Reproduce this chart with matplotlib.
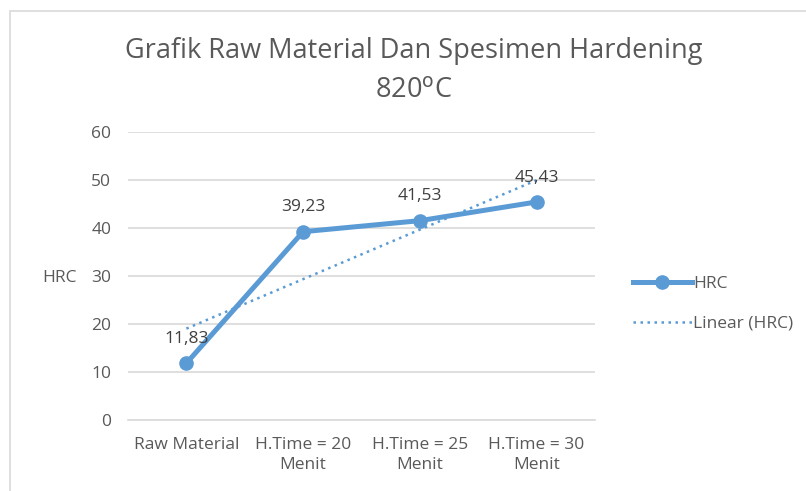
import numpy as np
import matplotlib
matplotlib.use("Agg")
import matplotlib.pyplot as plt
from matplotlib.lines import Line2D
from matplotlib.patches import Rectangle

# Chart data
categories = ["Raw Material", "H.Time = 20\nMenit", "H.Time = 25\nMenit", "H.Time = 30\nMenit"]
hrc = [11.83, 39.23, 41.53, 45.43]
labels = ["11,83", "39,23", "41,53", "45,43"]
yticks = [0, 10, 20, 30, 40, 50, 60]

plt.rcParams['font.family'] = ['Open Sans', 'DejaVu Sans']
text_col = '#595959'
blue = '#5B9BD5'
grid_col = '#D9D9D9'

fig = plt.figure(figsize=(8.06, 4.91), dpi=100)
fig.patches.append(Rectangle((10 / 806, -0.01), 1.0, 1 - 11 / 491 + 0.01, transform=fig.transFigure,
                             fill=False, edgecolor=grid_col, linewidth=1.2))
ax = fig.add_axes([128 / 806, 1 - 420 / 491, (595 - 128) / 806, (420 - 132) / 491])

x = np.arange(1, len(hrc) + 1)
ax.plot(x, hrc, color=blue, linewidth=3.6, marker='o', markersize=9.5, zorder=3)

# linear trendline
m, b = np.polyfit(x, hrc, 1)
ax.plot(x, m * x + b, color=blue, linewidth=1.8, linestyle=(0, (1, 1.8)), zorder=2)

for xi, yi, lab in zip(x, hrc, labels):
    ax.annotate(lab, (xi, yi), xytext=(0, 17.5), textcoords='offset points', ha='center', va='center',
                fontsize=12.5, color='#404040')

ax.set_xlim(0.5, 4.5)
ax.set_ylim(0, 60)
ax.set_yticks(yticks)
ax.set_xticks(x)
ax.set_xticklabels(categories, linespacing=1.35)
ax.grid(axis='y', color=grid_col, linewidth=1.2)
ax.set_axisbelow(True)
for s in ['top', 'right', 'left']:
    ax.spines[s].set_visible(False)
ax.spines['bottom'].set_color(grid_col)
ax.spines['bottom'].set_linewidth(1.2)
ax.tick_params(axis='both', length=0, labelsize=12.5, colors=text_col)
ax.tick_params(axis='y', pad=12)
ax.tick_params(axis='x', pad=12)

fig.text(60 / 806, 1 - 278 / 491, "HRC", ha='center', va='center', fontsize=12.5, color=text_col)

fig.text(414 / 806, 1 - 51 / 491, "Grafik Raw Material Dan Spesimen Hardening", ha='center', va='center',
         fontsize=19.5, color=text_col)
fig.text(414 / 806, 1 - 90 / 491, "820$^{\\mathrm{o}}$C", ha='center', va='center', fontsize=19.5,
         color=text_col)

handles = [Line2D([], [], color=blue, linewidth=3.6, marker='o', markersize=9.5),
           Line2D([], [], color=blue, linewidth=1.8, linestyle=(0, (1, 1.8)))]
fig.legend(handles, ["HRC", "Linear (HRC)"], loc='center left', bbox_to_anchor=(617 / 806, 1 - 304 / 491),
           frameon=False, fontsize=12.5, labelcolor=text_col, handlelength=3.4, handletextpad=0.1,
           labelspacing=1.35)

fig.savefig("out.png", dpi=100, facecolor='white')
